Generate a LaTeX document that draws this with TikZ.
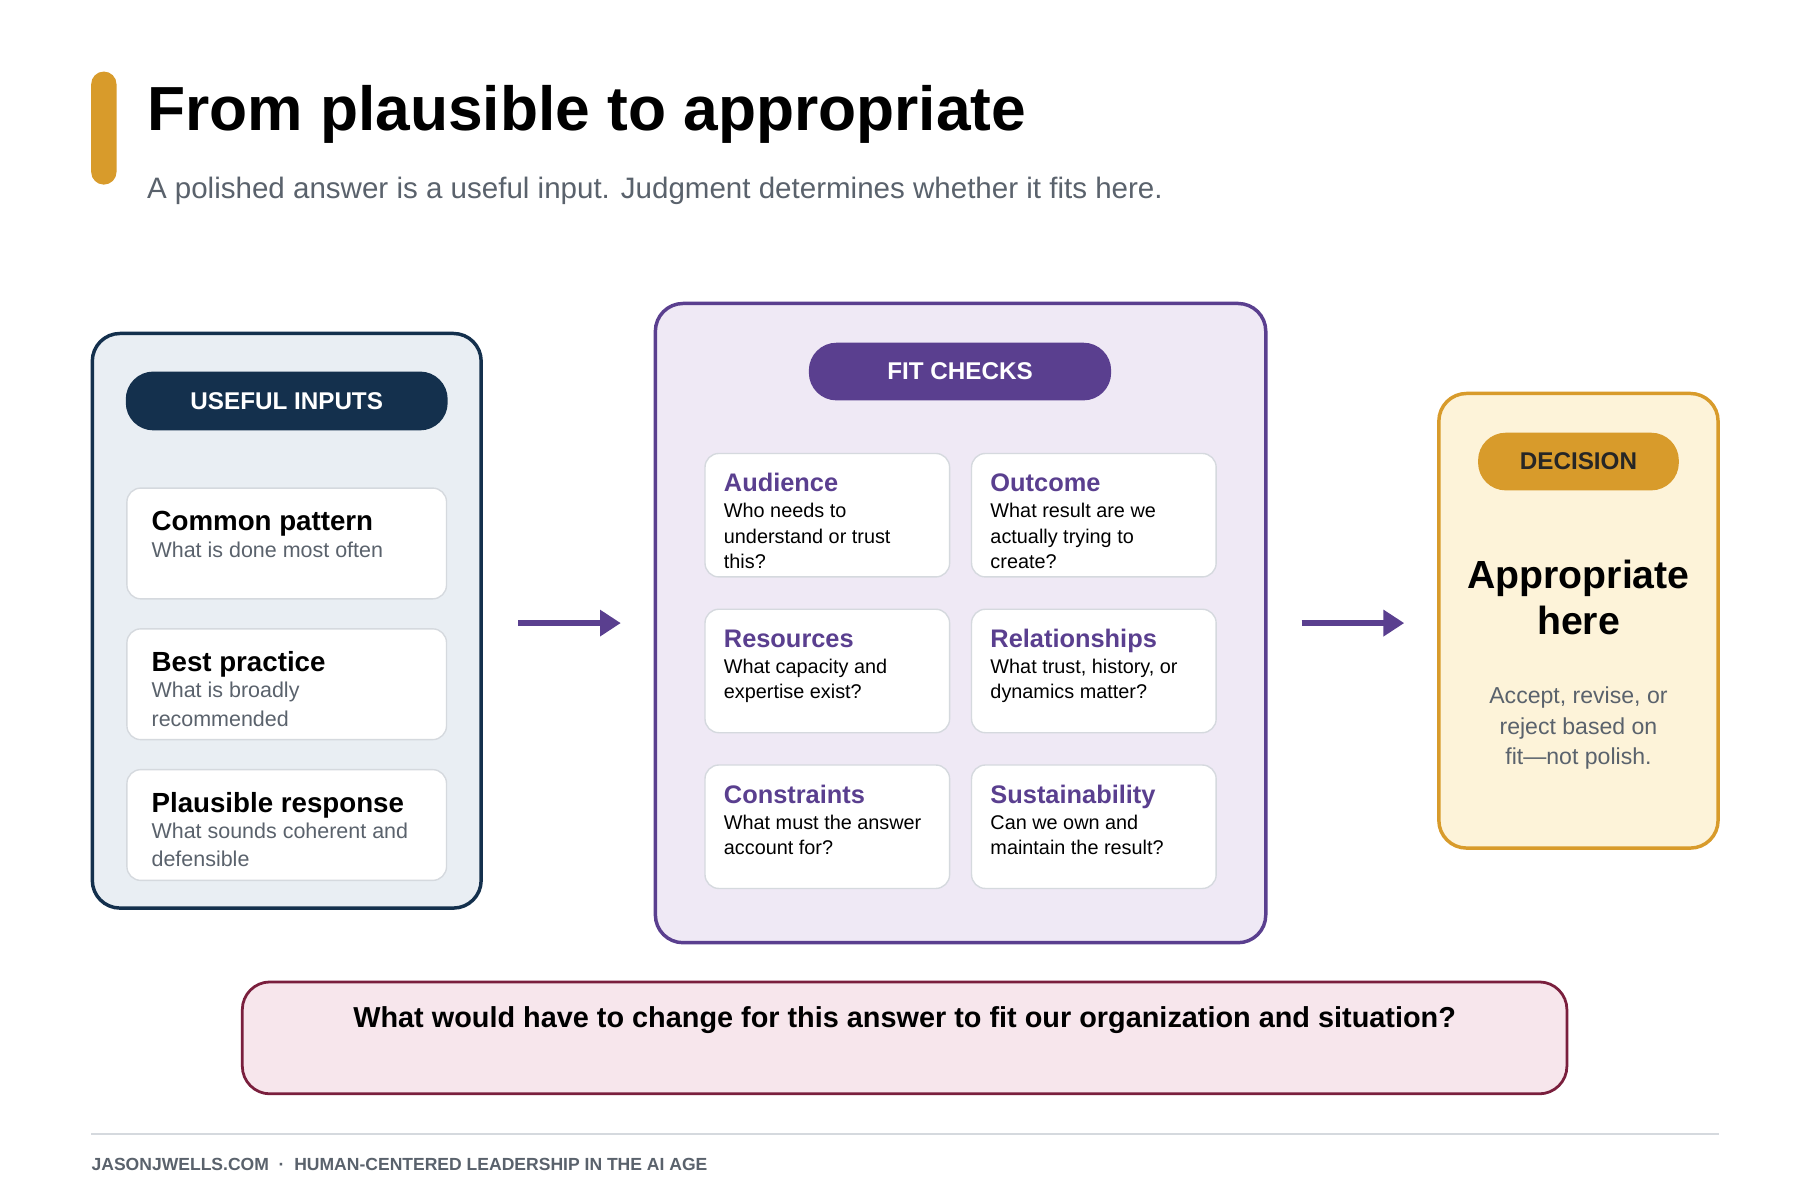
\documentclass[tikz,border=0pt]{standalone}
\usepackage{fontspec}
\usetikzlibrary{arrows.meta}
\setmainfont{Liberation Sans}
\definecolor{navy}{HTML}{14304D}
\definecolor{navyfill}{HTML}{E9EEF3}
\definecolor{purp}{HTML}{5A3F8F}
\definecolor{purpfill}{HTML}{EFE9F5}
\definecolor{gold}{HTML}{D89B2B}
\definecolor{goldfill}{HTML}{FDF3D9}
\definecolor{wine}{HTML}{7A1F3D}
\definecolor{winefill}{HTML}{F7E6EC}
\definecolor{gtxt}{HTML}{5A626C}
\definecolor{cardline}{HTML}{D5D9DE}
\begin{document}
\begin{tikzpicture}[x=0.5pt,y=-0.5pt,
  panel/.style={rounded corners=12pt,line width=1.5pt},
  pill/.style={rounded corners=12pt},
  card/.style={draw=cardline,fill=white,rounded corners=6pt,line width=0.6pt},
  pilltxt/.style={font=\bfseries\fontsize{10.5pt}{12pt}\selectfont},
  arr/.style={draw=purp,line width=2.5pt,-{Triangle[length=9pt,width=11pt]}}]
\useasboundingbox (0,0) rectangle (1560,1040);
\fill[white] (0,0) rectangle (1560,1040);
% title
\fill[gold,rounded corners=5.5pt] (79,62) rectangle (101,160);
\node[anchor=base west,inner sep=0,font=\bfseries\fontsize{27pt}{30pt}\selectfont] (title) at (127,113) {From plausible to appropriate};
\node[anchor=base west,inner sep=0,text=gtxt,font=\fontsize{12.8pt}{15pt}\selectfont] (sub) at (127,172) {A polished answer is a useful input. Judgment determines whether it fits here.};
% left panel
\draw[panel,draw=navy,fill=navyfill] (80,289) rectangle (417,787);
\fill[navy,pill] (109,322) rectangle (388,373);
\node[pilltxt,text=white] (ui) at (248.5,348) {USEFUL INPUTS};
\foreach \y/\t/\s [count=\i] in {423/Common pattern/What is done most often,545/Best practice/{What is broadly\\recommended},667/Plausible response/{What sounds coherent and\\defensible}}{
  \draw[card] (110,\y) rectangle (387,\y+96);
  \node[anchor=base west,inner sep=0,font=\bfseries\fontsize{12pt}{14pt}\selectfont] (lt\i) at (131,\y+37) {\t};
  \node[anchor=north west,inner sep=0,text=gtxt,align=left,font=\fontsize{9.3pt}{12.2pt}\selectfont] (ls\i) at (131,\y+46) {\s};
}
% arrows
\coordinate (a1s) at (449,540); \coordinate (a1e) at (538,540);
\draw[arr] (a1s) -- (a1e);
\coordinate (a2s) at (1128,540); \coordinate (a2e) at (1217,540);
\draw[arr] (a2s) -- (a2e);
% middle panel
\draw[panel,draw=purp,fill=purpfill] (568,263) rectangle (1097,817);
\fill[purp,pill] (701,297) rectangle (963,347);
\node[pilltxt,text=white] (fc) at (832,322) {FIT CHECKS};
\foreach \x/\y/\t/\s [count=\i] in {
 611/393/Audience/{Who needs to\\understand or trust\\this?},
 842/393/Outcome/{What result are we\\actually trying to\\create?},
 611/528/Resources/{What capacity and\\expertise exist?},
 842/528/Relationships/{What trust, history, or\\dynamics matter?},
 611/663/Constraints/{What must the answer\\account for?},
 842/663/Sustainability/{Can we own and\\maintain the result?}}{
  \draw[card] (\x,\y) rectangle (\x+212,\y+107);
  \node[anchor=base west,inner sep=0,text=purp,font=\bfseries\fontsize{11pt}{13pt}\selectfont] (mt\i) at (\x+16,\y+33) {\t};
  \node[anchor=north west,inner sep=0,align=left,font=\fontsize{8.6pt}{10.9pt}\selectfont] (ms\i) at (\x+16,\y+43) {\s};
}
% right panel
\draw[panel,draw=gold,fill=goldfill] (1247,341) rectangle (1489,735);
\fill[gold,pill] (1281,375) rectangle (1455,425);
\node[pilltxt,text=black!85] (dec) at (1368,400) {DECISION};
\node[align=center,font=\bfseries\fontsize{17pt}{20pt}\selectfont] (ah) at (1368,518) {Appropriate\\here};
\node[align=center,text=gtxt,font=\fontsize{10pt}{13.3pt}\selectfont] (acc) at (1368,631) {Accept, revise, or\\reject based on\\fit—not polish.};
% bottom box
\draw[panel,draw=wine,fill=winefill,line width=1.2pt] (210,851) rectangle (1358,948);
\node[font=\bfseries\fontsize{12.5pt}{15pt}\selectfont] (q) at (784,884) {What would have to change for this answer to fit our organization and situation?};
% footer
\draw[cardline,line width=0.7pt] (79,983) -- (1490,983);
\node[anchor=base west,inner sep=0,text=gtxt,font=\bfseries\fontsize{7.6pt}{9pt}\selectfont] (ft) at (79,1014) {JASONJWELLS.COM \ · \ HUMAN-CENTERED LEADERSHIP IN THE AI AGE};
\end{tikzpicture}
\end{document}
